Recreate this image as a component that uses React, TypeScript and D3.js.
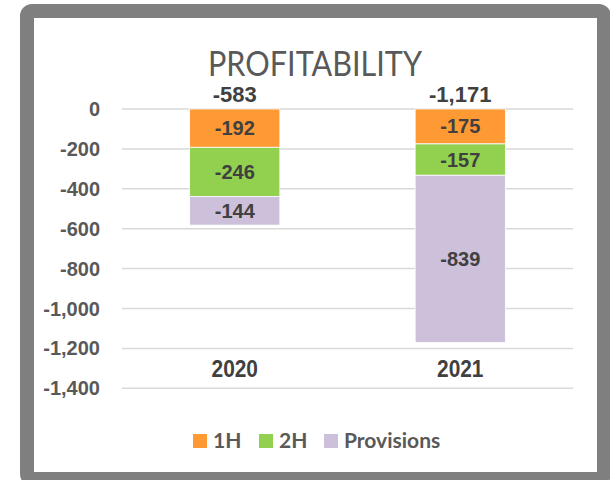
import React, { useEffect, useRef } from "react";
import * as d3 from "d3";

const years = ["2020", "2021"];
const seriesNames = ["1H", "2H", "Provisions"];
const seriesColors = ["#FF9933", "#92D050", "#CCC0DA"];
const firstHalf = [-192, -175];
const secondHalf = [-246, -157];
const provisions = [-144, -839];
const totals = [-583, -1171];
const yTicks = [0, -200, -400, -600, -800, -1000, -1200, -1400];

const SANS = "'Liberation Sans', Arial, sans-serif";
const fmt = (v: number) => d3.format(",")(v).replace("−", "-");

const App = () => {
  const ref = useRef<SVGSVGElement | null>(null);

  useEffect(() => {
    const svg = d3.select(ref.current);
    svg.selectAll("*").remove();

    const left = 122;
    const right = 573;
    const x = d3.scaleBand().domain(years).range([left, right]);
    const y = d3.scaleLinear().domain([-1400, 0]).range([388.3, 109]);
    const barW = x.bandwidth() * 0.4;
    const cx = (yr: string) => (x(yr) as number) + x.bandwidth() / 2;

    // frame
    svg
      .append("rect")
      .attr("x", 27)
      .attr("y", 11)
      .attr("width", 577)
      .attr("height", 468)
      .attr("rx", 5)
      .attr("fill", "#fff")
      .attr("stroke", "#7f7f7f")
      .attr("stroke-width", 14);

    // title
    svg
      .append("text")
      .attr("x", 315)
      .attr("y", 76)
      .attr("text-anchor", "middle")
      .attr("textLength", 214)
      .attr("lengthAdjust", "spacingAndGlyphs")
      .style("font-family", "Lato, 'Open Sans', sans-serif")
      .style("font-weight", 400)
      .style("font-size", "35px")
      .style("fill", "#595959")
      .text("PROFITABILITY");

    // gridlines
    svg
      .append("g")
      .selectAll("line")
      .data(yTicks)
      .join("line")
      .attr("x1", left)
      .attr("x2", right)
      .attr("y1", (d) => y(d))
      .attr("y2", (d) => y(d))
      .attr("stroke", "#d9d9d9")
      .attr("stroke-width", 1.5);

    // y tick labels
    svg
      .append("g")
      .selectAll("text")
      .data(yTicks)
      .join("text")
      .attr("x", 100)
      .attr("y", (d) => y(d) + 7)
      .attr("text-anchor", "end")
      .style("font-family", SANS)
      .style("font-weight", "bold")
      .style("font-size", "20px")
      .style("fill", "#595959")
      .text((d) => fmt(d));

    // stacked bars
    const seriesValues = [firstHalf, secondHalf, provisions];
    const stackRows = years.map((yr, i) => {
      const row: Record<string, number | string> = { year: yr };
      seriesNames.forEach((s, j) => (row[s] = seriesValues[j][i]));
      return row;
    });
    const stacked = d3
      .stack<any>()
      .keys(seriesNames)
      .offset(d3.stackOffsetDiverging)(stackRows);

    stacked.forEach((layer, j) => {
      const g = svg.append("g");
      g.selectAll("rect")
        .data(layer)
        .join("rect")
        .attr("x", (d) => cx(d.data.year) - barW / 2)
        .attr("y", (d) => Math.min(y(d[0]), y(d[1])))
        .attr("width", barW)
        .attr("height", (d) => Math.abs(y(d[1]) - y(d[0])))
        .attr("fill", seriesColors[j])
        .attr("stroke", "#fff")
        .attr("stroke-width", 0.8);

      g.selectAll("text")
        .data(layer)
        .join("text")
        .attr("x", (d) => cx(d.data.year))
        .attr("y", (d) => (y(d[0]) + y(d[1])) / 2 + 7)
        .attr("text-anchor", "middle")
        .style("font-family", SANS)
        .style("font-weight", "bold")
        .style("font-size", "20px")
        .style("fill", "#404040")
        .text((d) => fmt(d.data[seriesNames[j]] as number));
    });

    // totals
    svg
      .append("g")
      .selectAll("text")
      .data(totals)
      .join("text")
      .attr("x", (d, i) => cx(years[i]))
      .attr("y", y(0) - 7)
      .attr("text-anchor", "middle")
      .style("font-family", SANS)
      .style("font-weight", "bold")
      .style("font-size", "22px")
      .style("fill", "#404040")
      .text((d) => fmt(d));

    // x labels (condensed look)
    svg
      .append("g")
      .selectAll("text")
      .data(years)
      .join("text")
      .attr("transform", (d) => `translate(${cx(d)},377) scale(0.87,1)`)
      .attr("text-anchor", "middle")
      .style("font-family", SANS)
      .style("font-weight", "bold")
      .style("font-size", "24px")
      .style("fill", "#404040")
      .text((d) => d);

    // legend
    const legendX = [193, 259, 324];
    const legend = svg.append("g");
    seriesNames.forEach((name, i) => {
      legend
        .append("rect")
        .attr("x", legendX[i])
        .attr("y", 434)
        .attr("width", 14)
        .attr("height", 14)
        .attr("fill", seriesColors[i]);
      legend
        .append("text")
        .attr("x", legendX[i] + 20)
        .attr("y", 448)
        .style("font-family", "Lato, 'Open Sans', sans-serif")
        .style("font-weight", "bold")
        .style("font-size", "21px")
        .style("fill", "#595959")
        .text(name);
    });
  }, []);

  return (
    <svg
      ref={ref}
      width={610}
      height={480}
      style={{ position: "absolute", left: 0, top: 0 }}
    />
  );
};

export default App;
